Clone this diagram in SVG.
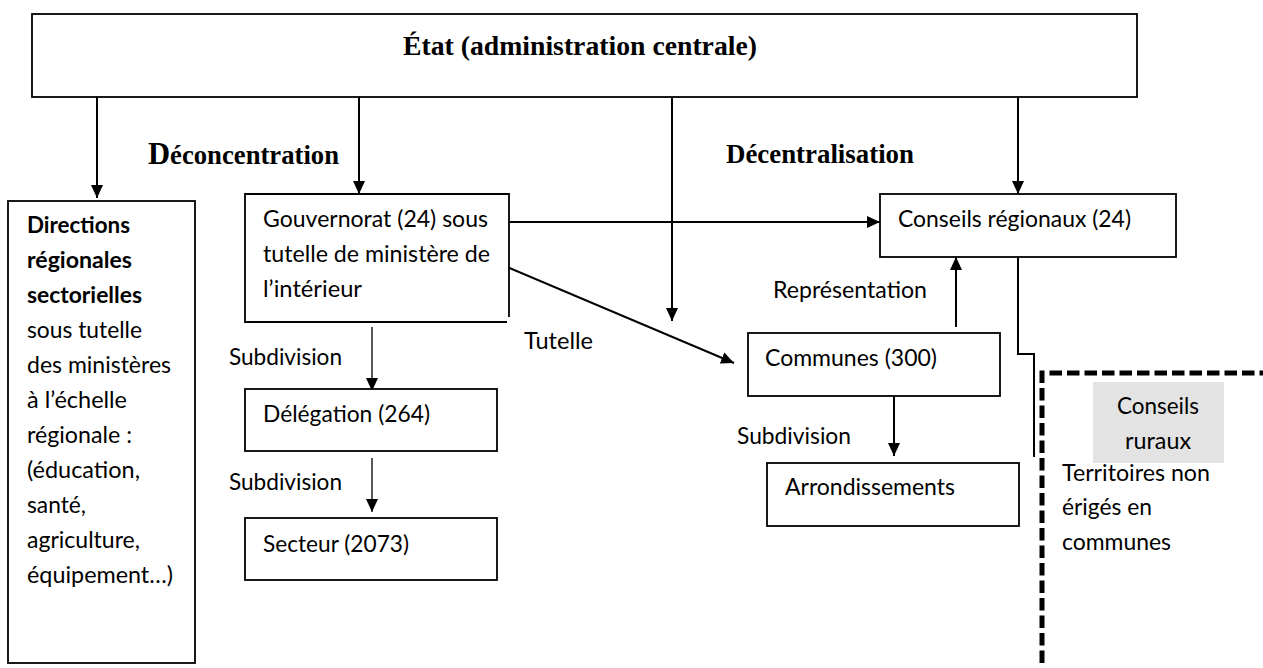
<svg xmlns="http://www.w3.org/2000/svg" width="1263" height="668" viewBox="0 0 1263 668">
<style>
.box{fill:#fff;stroke:#000;stroke-width:1.8}
.t{font-family:Lato,"Liberation Sans",sans-serif;font-size:22.5px;fill:#000}
.b{font-weight:bold}
.h{font-family:"Liberation Serif","Times New Roman",serif;font-weight:bold;font-size:27px;fill:#000}
.c{fill:none;stroke:#000;stroke-width:2}
.thin{fill:none;stroke:#000;stroke-width:1.3}
</style>
<defs>
<marker id="ah" viewBox="0 0 13 12" refX="13" refY="6" markerWidth="13" markerHeight="12" markerUnits="userSpaceOnUse" orient="auto">
<path d="M0,0 L13,6 L0,12 z" fill="#000"/>
</marker>
</defs>
<rect width="1263" height="668" fill="#fff"/>

<g id="connectors">
<path class="c" d="M97,97 V198" marker-end="url(#ah)"/>
<path class="c" d="M359,97 V194" marker-end="url(#ah)"/>
<path class="c" d="M672,97 V321" marker-end="url(#ah)"/>
<path class="c" d="M1018,97 V194" marker-end="url(#ah)"/>
<path class="c" d="M509,222 H880" marker-end="url(#ah)"/>
<path class="c" d="M507,267 L734,363" marker-end="url(#ah)"/>
<path class="thin" d="M372,327 V391" marker-end="url(#ah)"/>
<path class="thin" d="M372,458 V512" marker-end="url(#ah)"/>
<path class="c" d="M956,327 V257" marker-end="url(#ah)"/>
<path class="c" d="M894,396 V456" marker-end="url(#ah)"/>
<path d="M1018,252 V354 H1034 V457" fill="none" stroke="#000" stroke-width="2"/>
<path d="M1042,663 V373 H1263" fill="none" stroke="#000" stroke-width="5" stroke-dasharray="12.5 5"/>
</g>

<g id="etat">
<rect class="box" x="32" y="14" width="1105" height="83"/>
<text class="h" x="403" y="55" textLength="354" lengthAdjust="spacingAndGlyphs">État (administration centrale)</text>
</g>

<g id="label-deconcentration">
<text class="h" x="148" y="164" textLength="191" lengthAdjust="spacingAndGlyphs"><tspan font-size="31">D</tspan>éconcentration</text>
</g>
<g id="label-decentralisation">
<text class="h" x="726" y="163" textLength="188" lengthAdjust="spacingAndGlyphs">Décentralisation</text>
</g>

<g id="directions">
<rect class="box" x="8" y="201" width="187" height="462"/>
<text class="t b" x="27" y="233" textLength="103" lengthAdjust="spacingAndGlyphs">Directions</text>
<text class="t b" x="27" y="268" textLength="105" lengthAdjust="spacingAndGlyphs">régionales</text>
<text class="t b" x="27" y="303" textLength="115" lengthAdjust="spacingAndGlyphs">sectorielles</text>
<text class="t" x="27" y="338" textLength="115" lengthAdjust="spacingAndGlyphs">sous tutelle</text>
<text class="t" x="27" y="373" textLength="144" lengthAdjust="spacingAndGlyphs">des ministères</text>
<text class="t" x="27" y="408" textLength="100" lengthAdjust="spacingAndGlyphs">à l’échelle</text>
<text class="t" x="27" y="443" textLength="105" lengthAdjust="spacingAndGlyphs">régionale :</text>
<text class="t" x="27" y="478" textLength="113" lengthAdjust="spacingAndGlyphs">(éducation,</text>
<text class="t" x="27" y="513" textLength="59" lengthAdjust="spacingAndGlyphs">santé,</text>
<text class="t" x="27" y="548" textLength="113" lengthAdjust="spacingAndGlyphs">agriculture,</text>
<text class="t" x="27" y="583" textLength="146" lengthAdjust="spacingAndGlyphs">équipement…)</text>
</g>

<g id="gouvernorat">
<path class="box" d="M509,317 V194 H245 V322 H507"/>
<text class="t" x="263" y="227" textLength="225" lengthAdjust="spacingAndGlyphs">Gouvernorat (24) sous</text>
<text class="t" x="263" y="262" textLength="227" lengthAdjust="spacingAndGlyphs">tutelle de ministère de</text>
<text class="t" x="263" y="297" textLength="99" lengthAdjust="spacingAndGlyphs">l’intérieur</text>
</g>

<g id="label-subdivision-1"><text class="t" x="229" y="365" textLength="113" lengthAdjust="spacingAndGlyphs">Subdivision</text></g>
<g id="delegation">
<rect class="box" x="245" y="389" width="252" height="62"/>
<text class="t" x="263" y="422" textLength="167" lengthAdjust="spacingAndGlyphs">Délégation (264)</text>
</g>
<g id="label-subdivision-2"><text class="t" x="229" y="490" textLength="113" lengthAdjust="spacingAndGlyphs">Subdivision</text></g>
<g id="secteur">
<rect class="box" x="245" y="518" width="252" height="62"/>
<text class="t" x="263" y="552" textLength="146" lengthAdjust="spacingAndGlyphs">Secteur (2073)</text>
</g>

<g id="conseils-regionaux">
<rect class="box" x="880" y="194" width="296" height="63"/>
<text class="t" x="898" y="227" textLength="233" lengthAdjust="spacingAndGlyphs">Conseils régionaux (24)</text>
</g>
<g id="label-tutelle"><text class="t" x="524" y="349" textLength="69" lengthAdjust="spacingAndGlyphs">Tutelle</text></g>
<g id="label-representation"><text class="t" x="773" y="298" textLength="154" lengthAdjust="spacingAndGlyphs">Représentation</text></g>

<g id="communes">
<rect class="box" x="748" y="333" width="252" height="63"/>
<text class="t" x="765" y="366" textLength="172" lengthAdjust="spacingAndGlyphs">Communes (300)</text>
</g>
<g id="label-subdivision-3"><text class="t" x="737" y="444" textLength="114" lengthAdjust="spacingAndGlyphs">Subdivision</text></g>
<g id="arrondissements">
<rect class="box" x="767" y="463" width="252" height="63"/>
<text class="t" x="785" y="495" textLength="170" lengthAdjust="spacingAndGlyphs">Arrondissements</text>
</g>

<g id="conseils-ruraux">
<rect x="1093" y="382" width="131" height="81" fill="#e3e3e3"/>
<text class="t" x="1117" y="414" textLength="82" lengthAdjust="spacingAndGlyphs">Conseils</text>
<text class="t" x="1125" y="449" textLength="66" lengthAdjust="spacingAndGlyphs">ruraux</text>
</g>
<g id="territoires">
<text class="t" x="1062" y="481" textLength="148" lengthAdjust="spacingAndGlyphs">Territoires non</text>
<text class="t" x="1062" y="515" textLength="90" lengthAdjust="spacingAndGlyphs">érigés en</text>
<text class="t" x="1062" y="550" textLength="109" lengthAdjust="spacingAndGlyphs">communes</text>
</g>
</svg>
